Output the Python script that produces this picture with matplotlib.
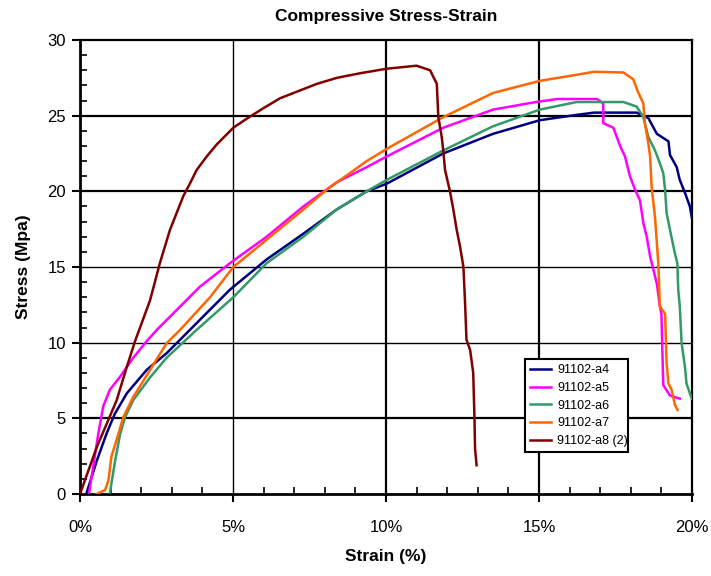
import matplotlib
matplotlib.use("Agg")
import matplotlib.pyplot as plt
import matplotlib.ticker as ticker

plt.rcParams['font.family'] = ['Liberation Sans', 'DejaVu Sans']

# ── Data (strain %, stress MPa) ──────────────────────────────────────────────
a4_strain = [0.22, 0.55, 0.87, 1.14, 1.53, 2.18, 2.83, 3.59, 4.9, 6.1, 7.3, 8.39,
             9.37, 10.02, 11.87, 13.5, 15.03, 16.23, 16.8, 18.19, 18.57, 18.85,
             19.23, 19.28, 19.5, 19.6, 19.77, 19.93, 20.0]
a4_stress = [0.1, 2.2, 4.0, 5.3, 6.65, 8.2, 9.3, 10.84, 13.5, 15.5, 17.2, 18.8,
             20.0, 20.5, 22.5, 23.8, 24.7, 25.05, 25.2, 25.2, 24.85, 23.8,
             23.3, 22.4, 21.6, 20.75, 19.9, 19.0, 18.2]

a5_strain = [0.3, 0.6, 0.76, 0.98, 1.31, 1.74, 2.18, 2.51, 3.92, 4.9, 6.1, 7.3,
             8.39, 9.37, 10.02, 11.87, 13.5, 14.9, 15.6, 16.9, 17.1, 17.1, 17.43,
             17.54, 17.65, 17.81, 17.97, 18.14, 18.3, 18.41, 18.52, 18.63, 18.74,
             18.85, 18.95, 19.0, 19.06, 19.28, 19.6]
a5_stress = [0.1, 4.0, 5.8, 6.9, 7.75, 9.0, 10.1, 10.84, 13.7, 15.25, 17.0, 19.0,
             20.6, 21.6, 22.3, 24.2, 25.4, 25.9, 26.1, 26.1, 25.8, 24.5, 24.2,
             23.6, 23.0, 22.3, 21.0, 20.1, 19.4, 17.9, 17.0, 15.7, 14.8,
             13.9, 12.4, 11.9, 7.2, 6.5, 6.3]

a6_strain = [0.98, 1.14, 1.31, 1.47, 1.74, 2.29, 2.83, 3.81, 5.01, 6.1, 7.3, 8.39,
             9.37, 10.02, 11.87, 13.5, 15.03, 16.23, 17.76, 18.19, 18.41, 18.57,
             18.79, 18.95, 19.06, 19.12, 19.17, 19.28, 19.44, 19.52, 19.55, 19.6,
             19.66, 19.77, 19.82, 19.99]
a6_stress = [0.1, 2.1, 3.95, 5.05, 6.2, 7.7, 9.0, 10.84, 13.0, 15.25, 17.0, 18.8,
             20.0, 20.75, 22.7, 24.3, 25.4, 25.9, 25.9, 25.6, 24.9, 23.6,
             22.7, 21.85, 21.2, 20.1, 18.55, 17.45, 15.9, 15.25, 13.5, 12.4,
             9.96, 8.4, 7.3, 6.3]

a7_strain = [0.55, 0.82, 0.93, 1.03, 1.2, 1.42, 1.74, 2.29, 2.83, 3.27, 4.25, 5.01,
             6.1, 7.3, 8.06, 9.37, 10.02, 11.87, 13.5, 15.03, 16.23, 16.8, 17.76,
             18.08, 18.19, 18.25, 18.41, 18.46, 18.57, 18.63, 18.68, 18.79, 18.9,
             18.95, 19.12, 19.17, 19.23, 19.33, 19.44, 19.53]
a7_stress = [0.0, 0.26, 0.9, 2.5, 3.6, 5.1, 6.4, 8.2, 9.96, 10.84, 13.0, 15.0,
             16.8, 18.8, 20.1, 22.0, 22.8, 24.9, 26.5, 27.3, 27.7, 27.9, 27.85,
             27.4, 26.8, 26.5, 25.8, 24.5, 23.2, 22.3, 20.3, 18.3, 15.2,
             12.4, 11.9, 8.6, 7.3, 6.9, 5.9, 5.55]

a8_strain = [0.0, 0.55, 1.2, 1.53, 1.8, 2.29, 2.61, 2.94, 3.38, 3.59, 3.81, 4.14,
             4.47, 5.01, 5.45, 6.0, 6.54, 7.74, 8.4, 9.15, 10.02, 11.0, 11.44,
             11.66, 11.71, 11.82, 11.87, 11.93, 12.09, 12.2, 12.31, 12.42, 12.53,
             12.58, 12.63, 12.75, 12.85, 12.89, 12.91, 12.96]
a8_stress = [0.0, 3.1, 6.2, 8.4, 10.1, 12.8, 15.25, 17.45, 19.7, 20.5, 21.4, 22.3,
             23.1, 24.2, 24.8, 25.5, 26.15, 27.1, 27.5, 27.8, 28.1, 28.3, 28.0,
             27.1, 24.9, 23.6, 22.7, 21.4, 20.0, 18.8, 17.45, 16.35, 15.0,
             12.8, 10.2, 9.5, 8.0, 5.1, 3.0, 1.9]

series = [
    ('91102-a4', a4_strain, a4_stress, '#000080'),
    ('91102-a5', a5_strain, a5_stress, '#FF00FF'),
    ('91102-a6', a6_strain, a6_stress, '#339966'),
    ('91102-a7', a7_strain, a7_stress, '#FF6600'),
    ('91102-a8 (2)', a8_strain, a8_stress, '#800000'),
]

# ── Figure ───────────────────────────────────────────────────────────────────
fig = plt.figure(figsize=(7.11, 5.76), dpi=100)
ax = fig.add_axes([0.1125, 0.1424, 0.8608, 0.7882])

# Excel-like gridlines with uneven weights
for y, lw in [(5, 1.6), (10, 1.0), (15, 1.0), (20, 1.6), (25, 1.6)]:
    ax.axhline(y, color='black', lw=lw, zorder=1)
for x, lw in [(5, 1.0), (10, 1.6), (15, 1.6)]:
    ax.axvline(x, color='black', lw=lw, zorder=1)

for name, xs, ys, col in series:
    ax.plot(xs, ys, color=col, lw=1.8, label=name, zorder=3)

ax.set_xlim(0, 20)
ax.set_ylim(0, 30)
ax.xaxis.set_major_locator(ticker.MultipleLocator(5))
ax.xaxis.set_minor_locator(ticker.MultipleLocator(1))
ax.yaxis.set_major_locator(ticker.MultipleLocator(5))
ax.yaxis.set_minor_locator(ticker.MultipleLocator(1))
ax.xaxis.set_major_formatter(ticker.FuncFormatter(lambda v, _: f'{v:.0f}%'))

ax.tick_params(which='major', direction='out', length=6, width=1.5,
               labelsize=12, color='black')
ax.tick_params(axis='x', which='major', pad=13)
ax.tick_params(axis='y', which='major', pad=4)
ax.tick_params(which='minor', direction='in', length=5, width=1.2)

for side in ['left', 'bottom']:
    ax.spines[side].set_linewidth(2.0)
for side in ['top', 'right']:
    ax.spines[side].set_linewidth(1.6)

ax.set_title('Compressive Stress-Strain', fontsize=12.5, fontweight='bold', pad=14)
ax.set_xlabel('Strain (%)', fontsize=12.5, fontweight='bold', labelpad=10)
ax.set_ylabel('Stress (Mpa)', fontsize=12.5, fontweight='bold', labelpad=12)

leg = ax.legend(loc='lower left', bbox_to_anchor=(0.727, 0.0925, 0.168, 0.2135),
                mode='expand', fontsize=9, handlelength=1.7, borderaxespad=0,
                fancybox=False, framealpha=1, edgecolor='black',
                labelspacing=0.45, handletextpad=0.5)
leg.get_frame().set_linewidth(1.5)
leg.set_zorder(5)

fig.savefig('out.png', dpi=100)
